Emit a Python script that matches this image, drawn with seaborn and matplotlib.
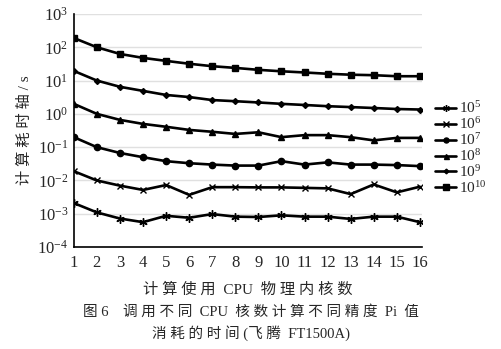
import pandas as pd
import numpy as np
import matplotlib
matplotlib.use('Agg')
import matplotlib.pyplot as plt
import seaborn as sns
from matplotlib.lines import Line2D

# cores used
cores = list(range(1, 16 + 1))

# time in seconds for each precision of Pi
t_1e5 = [0.0021, 0.0011, 0.00072, 0.00056, 0.00087, 0.00076, 0.00098, 0.00082,
         0.0008, 0.0009, 0.00082, 0.00082, 0.0007, 0.00082, 0.00082, 0.00056]
t_1e6 = [0.019, 0.010, 0.007, 0.0052, 0.0073, 0.0037, 0.0063, 0.0063,
         0.0062, 0.0062, 0.006, 0.0058, 0.0039, 0.0076, 0.0044, 0.0065]
t_1e7 = [0.2, 0.1, 0.067, 0.05, 0.038, 0.033, 0.03, 0.028,
         0.028, 0.038, 0.03, 0.035, 0.03, 0.03, 0.029, 0.027]
t_1e8 = [2.0, 1.0, 0.66, 0.5, 0.41, 0.33, 0.29, 0.25,
         0.28, 0.2, 0.23, 0.23, 0.2, 0.16, 0.19, 0.19]
t_1e9 = [19.5, 10, 6.5, 4.9, 3.7, 3.2, 2.6, 2.4,
         2.2, 2.0, 1.85, 1.7, 1.6, 1.5, 1.4, 1.35]
t_1e10 = [190, 100, 63, 48, 39, 32, 27, 24,
          21, 19, 17.5, 16, 15, 14.5, 13.5, 13.5]

labels = ['$10^{5}$', '$10^{6}$', '$10^{7}$', '$10^{8}$', '$10^{9}$', '$10^{10}$']
series = [t_1e5, t_1e6, t_1e7, t_1e8, t_1e9, t_1e10]
markers = [(6, 2, 0), 'x', 'o', '^', 'D', 's']
msizes = [6, 5, 4.5, 4.5, 3, 5]

sns.set_style('white')
plt.rcParams['font.family'] = ['Liberation Serif', 'Noto Sans CJK SC']
plt.rcParams['mathtext.fontset'] = 'custom'
plt.rcParams['mathtext.rm'] = 'Liberation Serif'
plt.rcParams['mathtext.it'] = 'Liberation Serif:italic'

rows = []
for lab, vals in zip(labels, series):
    for c, v in zip(cores, vals):
        rows.append({'cores': c, 'time': v, 'precision': lab})
df = pd.DataFrame(rows)

fig = plt.figure(figsize=(5.02, 3.49), dpi=100)
ax = fig.add_axes([0.147, 0.292, 0.694, 0.668])

ax.set_yscale('log')
ax.set_ylim(1e-4, 1e3)
ax.set_yticks([10.0 ** k for k in range(-4, 4)])
ax.yaxis.set_minor_locator(matplotlib.ticker.NullLocator())
ax.grid(axis='y', color='#e0e0e0', linewidth=1)
ax.set_axisbelow(True)

for lab, m, ms in zip(labels, markers, msizes):
    sub = df[df['precision'] == lab]
    sns.lineplot(data=sub, x='cores', y='time', ax=ax, color='black',
                 linewidth=1.9, marker=m, markersize=ms,
                 markeredgecolor='black', markerfacecolor='black',
                 markeredgewidth=1.0, legend=False)

ax.set_xlim(1, 16.1)
ax.set_xticks(cores)
ax.tick_params(axis='x', direction='in', length=4, width=1, labelsize=12, pad=6)
ax.tick_params(axis='y', length=0, labelsize=12, pad=4)
for s in ['top', 'right']:
    ax.spines[s].set_visible(False)
for s in ['left', 'bottom']:
    ax.spines[s].set_color('black')
    ax.spines[s].set_linewidth(1.2)

ax.set_xlabel('计 算 使 用  CPU  物 理 内 核 数', fontsize=11, labelpad=8)
ax.set_ylabel('计 算 耗 时 轴 / s', fontsize=11, labelpad=4)

handles = [Line2D([0], [0], color='black', linewidth=1.9, marker=m,
                  markersize=ms * 0.8, markerfacecolor='black', markeredgecolor='black')
           for m, ms in zip(markers, msizes)]
ax.legend(handles, labels, loc='center left', bbox_to_anchor=(1.015, 0.425),
          frameon=False, fontsize=11, handlelength=1.4, handletextpad=0.15,
          labelspacing=0.0, borderpad=0)

fig.text(0.5, 0.105, '图 6    调 用 不 同  CPU  核 数 计 算 不 同 精 度  Pi  值',
         ha='center', va='center', fontsize=10.5)
fig.text(0.5, 0.045, '消 耗 的 时 间 (飞 腾  FT1500A)',
         ha='center', va='center', fontsize=10.5)

fig.savefig('out.png', dpi=100)
